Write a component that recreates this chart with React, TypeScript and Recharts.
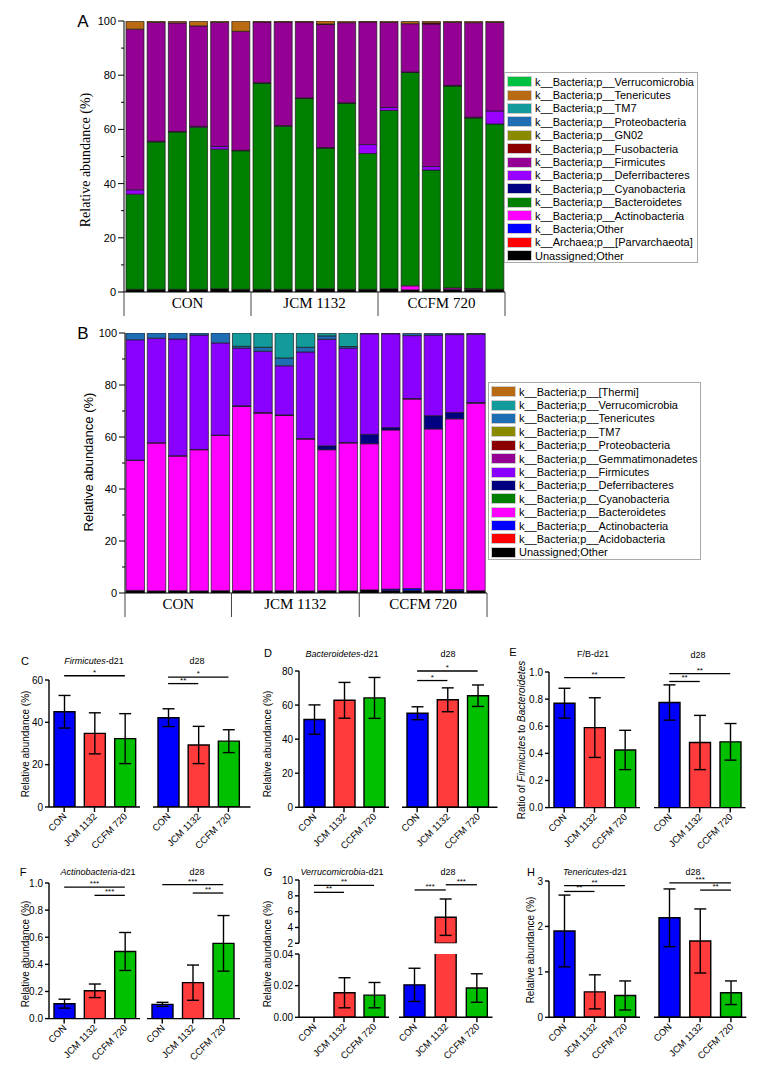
import React from 'react'
import { BarChart, Bar, XAxis, YAxis, Cell, ErrorBar, ReferenceLine } from 'recharts'

const sans = 'Liberation Sans, Arial, sans-serif'
const serif = 'Liberation Serif, Times New Roman, serif'

// ---- A: phylum composition, 18 samples (bottom of stack first)
const samplesA = ['CON1', 'CON2', 'CON3', 'CON4', 'CON5', 'CON6', 'JCM1', 'JCM2', 'JCM3', 'JCM4', 'JCM5', 'JCM6', 'CCFM1', 'CCFM2', 'CCFM3', 'CCFM4', 'CCFM5', 'CCFM6']
const unassignedA = [1, 1, 1, 1, 1.2, 1, 1, 1, 1, 1.2, 1, 1, 1.2, 0.8, 1, 1, 1, 1]
const parvA = [0, 0, 0, 0, 0, 0, 0, 0, 0, 0, 0, 0, 0, 0, 0, 0, 0, 0]
const otherA = [0, 0, 0, 0, 0, 0, 0, 0, 0, 0, 0, 0, 0, 0, 0, 0, 0, 0]
const actinoA = [0, 0, 0, 0, 0, 0, 0, 0, 0, 0, 0, 0, 0, 1.5, 0, 0.5, 0.3, 0]
const bacteroA = [35.1, 54.4, 58.1, 59.8, 51.5, 51.1, 76.1, 60.2, 70.5, 51.9, 68.7, 50.1, 65.8, 78.7, 44, 74.5, 62.9, 61]
const cyanoA = [0, 0, 0, 0, 0, 0, 0, 0, 0, 0, 0, 0, 0, 0, 0, 0, 0, 0]
const deferriA = [1.6, 0.2, 0.1, 0.3, 1.0, 0.2, 0.1, 0.2, 0.1, 0.2, 0.1, 3.3, 1.1, 0.2, 1.3, 0.2, 0.3, 4.8]
const firmA = [59.3, 43.9, 40.1, 37.1, 45.8, 43.9, 22.4, 38.2, 28, 45.5, 29.6, 45.2, 31.4, 17.8, 52.6, 23.3, 34.9, 32.7]
const fusoA = [0, 0, 0, 0, 0, 0, 0, 0, 0, 0.1, 0, 0, 0, 0, 0.4, 0, 0, 0]
const gn02A = [0, 0, 0, 0, 0, 0, 0, 0, 0, 0, 0, 0, 0, 0, 0, 0, 0, 0]
const proteoA = [0, 0, 0, 0, 0, 0, 0, 0, 0, 0, 0, 0, 0, 0, 0, 0, 0, 0]
const tm7A = [0, 0, 0, 0, 0, 0, 0, 0, 0, 0, 0, 0, 0, 0, 0, 0, 0, 0]
const teneA = [2.9, 0.4, 0.6, 1.7, 0.4, 3.7, 0.3, 0.3, 0.3, 1.1, 0.5, 0.3, 0.4, 0.8, 0.6, 0.4, 0.5, 0.4]
const verrucoA = [0, 0, 0, 0, 0, 0, 0, 0, 0, 0, 0, 0, 0, 0, 0, 0, 0, 0]

const seriesA: [string, number[]][] = [
  ['Unassigned;Other', unassignedA],
  ['k__Archaea;p__[Parvarchaeota]', parvA],
  ['k__Bacteria;Other', otherA],
  ['k__Bacteria;p__Actinobacteria', actinoA],
  ['k__Bacteria;p__Bacteroidetes', bacteroA],
  ['k__Bacteria;p__Cyanobacteria', cyanoA],
  ['k__Bacteria;p__Deferribacteres', deferriA],
  ['k__Bacteria;p__Firmicutes', firmA],
  ['k__Bacteria;p__Fusobacteria', fusoA],
  ['k__Bacteria;p__GN02', gn02A],
  ['k__Bacteria;p__Proteobacteria', proteoA],
  ['k__Bacteria;p__TM7', tm7A],
  ['k__Bacteria;p__Tenericutes', teneA],
  ['k__Bacteria;p__Verrucomicrobia', verrucoA],
]
const coloursA = ['#000000', '#ff0000', '#0000ff', '#ff00ff', '#008000', '#000080', '#9900ff', '#930093', '#8b0000', '#8a8a00', '#1f6db3', '#139a9a', '#b86b12', '#00c040']

// ---- B: phylum composition, 17 samples
const samplesB = ['CON1', 'CON2', 'CON3', 'CON4', 'CON5', 'JCM1', 'JCM2', 'JCM3', 'JCM4', 'JCM5', 'JCM6', 'CCFM1', 'CCFM2', 'CCFM3', 'CCFM4', 'CCFM5', 'CCFM6']
const unassignedB = [1, 0.8, 0.9, 0.8, 0.9, 0.9, 0.8, 0.9, 0.8, 0.9, 0.8, 1.2, 0.9, 0.9, 0.9, 0.8, 0.9]
const acidoB = [0, 0, 0, 0, 0, 0, 0, 0, 0, 0, 0, 0, 0, 0, 0, 0, 0]
const actinoB = [0, 0, 0, 0, 0, 0, 0, 0, 0, 0, 0, 0, 0.6, 0.8, 0, 0.5, 0]
const bacteroB = [50, 56.9, 51.8, 54.3, 59.7, 70.9, 68.4, 67.4, 58.4, 54.2, 56.9, 56.2, 61.2, 72.9, 62.2, 65.7, 72.1]
const cyanoB = [0, 0, 0, 0, 0, 0, 0, 0, 0, 0, 0, 0, 0, 0, 0, 0, 0]
const deferriB = [0.1, 0.1, 0.1, 0.1, 0.1, 0.2, 0.2, 0.2, 0.2, 1.5, 0.2, 3.6, 0.9, 0.2, 5.1, 2.4, 0.3]
const firmB = [46.3, 40.2, 44.9, 44, 35.5, 22.2, 23.6, 18.9, 33.3, 41, 36.3, 38.7, 36.1, 24.2, 31, 30, 26.2]
const gemmaB = [0, 0, 0, 0, 0, 0, 0, 0, 0, 0, 0, 0, 0, 0, 0, 0, 0]
const proteoB = [0, 0, 0, 0, 0, 0, 0, 0, 0, 0, 0, 0, 0, 0, 0, 0, 0]
const tm7B = [0, 0, 0, 0, 0, 0, 0, 0, 0, 0, 0, 0, 0, 0, 0, 0, 0]
const teneB = [2.6, 2, 2.3, 0.8, 3.8, 0.7, 1.5, 3, 1.8, 1.3, 0.6, 0.2, 0.2, 0.8, 0.6, 0.4, 0.3]
const verrucoB = [0, 0, 0, 0, 0, 5.1, 5.5, 9.6, 5.5, 1, 5.2, 0, 0, 0, 0, 0, 0]
const thermiB = [0, 0, 0, 0, 0, 0, 0, 0, 0, 0, 0, 0, 0, 0, 0, 0, 0]

const seriesB: [string, number[]][] = [
  ['Unassigned;Other', unassignedB],
  ['k__Bacteria;p__Acidobacteria', acidoB],
  ['k__Bacteria;p__Actinobacteria', actinoB],
  ['k__Bacteria;p__Bacteroidetes', bacteroB],
  ['k__Bacteria;p__Cyanobacteria', cyanoB],
  ['k__Bacteria;p__Deferribacteres', deferriB],
  ['k__Bacteria;p__Firmicutes', firmB],
  ['k__Bacteria;p__Gemmatimonadetes', gemmaB],
  ['k__Bacteria;p__Proteobacteria', proteoB],
  ['k__Bacteria;p__TM7', tm7B],
  ['k__Bacteria;p__Tenericutes', teneB],
  ['k__Bacteria;p__Verrucomicrobia', verrucoB],
  ['k__Bacteria;p__[Thermi]', thermiB],
]
const coloursB = ['#000000', '#ff0000', '#0000ff', '#ff00ff', '#008000', '#000080', '#8a00ff', '#930093', '#8b0000', '#8a8a00', '#1f6db3', '#139a9a', '#b86b12']

const groupNames = ['CON', 'JCM 1132', 'CCFM 720']
const groupSizesA = [6, 6, 6]
const groupSizesB = [5, 6, 6]
const pctTicks = [0, 10, 20, 30, 40, 50, 60, 70, 80, 90, 100]

// ---- C-H: group means and SD
const groups = ['CON', 'JCM 1132', 'CCFM 720']
const firmD21 = [45.0, 34.8, 32.3]
const firmD21Sd = [7.7, 9.7, 11.8]
const firmD28 = [42.2, 29.3, 31.1]
const firmD28Sd = [4.2, 8.8, 5.4]
const bactD21 = [51.5, 62.8, 64.2]
const bactD21Sd = [8.6, 10.5, 12.0]
const bactD28 = [55.2, 63.1, 65.5]
const bactD28Sd = [3.8, 7.0, 6.3]
const fbD21 = [0.77, 0.59, 0.425]
const fbD21Sd = [0.11, 0.22, 0.145]
const fbD28 = [0.775, 0.48, 0.485]
const fbD28Sd = [0.13, 0.2, 0.135]
const actD21 = [0.11, 0.205, 0.495]
const actD21Sd = [0.033, 0.05, 0.14]
const actD28 = [0.105, 0.265, 0.555]
const actD28Sd = [0.015, 0.13, 0.205]
const verD21 = [0, 0.0155, 0.014]
const verD21Sd = [0, 0.0095, 0.008]
const verD28 = [0.0205, 5.3, 0.0185]
const verD28Sd = [0.0105, 2.3, 0.009]
const tenD21 = [1.9, 0.56, 0.48]
const tenD21Sd = [0.79, 0.375, 0.32]
const tenD28 = [2.19, 1.68, 0.54]
const tenD28Sd = [0.635, 0.705, 0.26]

type Sig = { a: number; b: number; y: number; t: string }
const sigC21: Sig[] = [{ a: 0, b: 2, y: 62, t: '*' }]
const sigC28: Sig[] = [{ a: 0, b: 1, y: 58.3, t: '**' }, { a: 0, b: 2, y: 61.4, t: '*' }]
const sigD28: Sig[] = [{ a: 0, b: 1, y: 74.4, t: '*' }, { a: 0, b: 2, y: 80, t: '*' }]
const sigE21: Sig[] = [{ a: 0, b: 2, y: 0.958, t: '**' }]
const sigE28: Sig[] = [{ a: 0, b: 1, y: 0.93, t: '**' }, { a: 0, b: 2, y: 0.988, t: '**' }]
const sigF21: Sig[] = [{ a: 0, b: 2, y: 0.97, t: '***' }, { a: 1, b: 2, y: 0.909, t: '***' }]
const sigF28: Sig[] = [{ a: 0, b: 2, y: 0.988, t: '***' }, { a: 1, b: 2, y: 0.926, t: '**' }]
const sigG21: Sig[] = [{ a: 0, b: 1, y: 8.44, t: '**' }, { a: 0, b: 2, y: 9.33, t: '**' }]
const sigG28: Sig[] = [{ a: 0, b: 1, y: 8.74, t: '***' }, { a: 1, b: 2, y: 9.4, t: '***' }]
const sigH21: Sig[] = [{ a: 0, b: 1, y: 2.77, t: '**' }, { a: 0, b: 2, y: 2.9, t: '**' }]
const sigH28: Sig[] = [{ a: 0, b: 2, y: 2.96, t: '***' }, { a: 1, b: 2, y: 2.8, t: '**' }]

const barColours = ['#0000ff', '#ff3b3b', '#00c000']

const PctTick = (p: any) => {
  const v = p.payload.value
  const major = v % 20 === 0
  return (
    <g>
      <line x1={p.x} x2={p.x - (major ? 6 : 3)} y1={p.y} y2={p.y} stroke="#000" />
      {major && (
        <text x={p.x - 8} y={p.y} dy={4} textAnchor="end" fontSize={11} fontFamily={sans}>
          {v}
        </text>
      )}
    </g>
  )
}

function StackPanel({ left, top, plotW, plotH, samples, series, colours, sizes, barSize }: any) {
  const YW = 50, XH = 30, MT = 10, MR = 10
  const rows = samples.map((s: string, i: number) => {
    const r: any = { s }
    series.forEach(([k, v]: [string, number[]]) => { r[k] = v[i] })
    return r
  })
  const slot = plotW / samples.length
  const starts = sizes.map((_: number, g: number) => sizes.slice(0, g).reduce((a: number, b: number) => a + b, 0))
  const GroupTick = (p: any) => {
    const i = p.index
    const g = starts.indexOf(i)
    const xs = p.x - slot / 2
    return (
      <g>
        {g >= 0 && <line x1={xs} x2={xs} y1={p.y} y2={p.y + 24} stroke="#444" />}
        {g >= 0 && (
          <text x={xs + (sizes[g] * slot) / 2} y={p.y + 16} textAnchor="middle" fontFamily={serif} fontSize={15}>
            {groupNames[g]}
          </text>
        )}
        {i === samples.length - 1 && <line x1={p.x + slot / 2} x2={p.x + slot / 2} y1={p.y} y2={p.y + 24} stroke="#444" />}
      </g>
    )
  }
  return (
    <div style={{ position: 'absolute', left: left - YW, top: top - MT }}>
      <BarChart width={YW + plotW + MR} height={MT + plotH + XH} data={rows} margin={{ top: MT, right: MR, bottom: 0, left: 0 }} barSize={barSize}>
        <XAxis dataKey="s" height={XH} interval={0} tickSize={0} tickMargin={0} tick={GroupTick} stroke="#000" />
        <YAxis width={YW} type="number" domain={[0, 100]} ticks={pctTicks} interval={0} allowDataOverflow tickSize={0} tickMargin={0} tickLine={false} tick={PctTick} stroke="#000" />
        {series.map(([k]: [string], j: number) => (
          <Bar key={k} dataKey={k} stackId="a" fill={colours[j]} stroke="#1a1a1a" strokeWidth={0.7} isAnimationActive={false} />
        ))}
      </BarChart>
    </div>
  )
}

function LegendBox({ left, top, width, height, series, colours }: any) {
  const items = series.map(([k]: [string], j: number) => ({ k, c: colours[j] })).reverse()
  return (
    <div style={{ position: 'absolute', left, top, width, height, boxSizing: 'border-box', border: '1px solid #aaa', background: '#fff', paddingTop: 2, paddingLeft: 2 }}>
      {items.map((it: any) => (
        <div key={it.k} style={{ height: 13.4, display: 'flex', alignItems: 'center', fontFamily: sans, fontSize: 11, whiteSpace: 'nowrap' }}>
          <span style={{ width: 25, height: 11, background: it.c, border: '1px solid #ccc', boxSizing: 'border-box', marginRight: 3, flex: 'none' }} />
          <span>{it.k}</span>
        </div>
      ))}
    </div>
  )
}

const CatTick = (p: any) => (
  <g transform={`translate(${p.x},${p.y})`}>
    <line x1={0} x2={0} y1={0} y2={5} stroke="#000" strokeWidth={1.4} />
    <text transform="translate(3,10) rotate(-45)" textAnchor="end" fontSize={9.5} fontFamily={sans}>
      {p.payload.value}
    </text>
  </g>
)

type SubProps = {
  x0: number; x1: number; y0: number; y1: number
  domain: [number, number]; ticks: number[]; dec?: number
  values: (number | null)[]; sds: (number | null)[]
  showY?: boolean; hideX?: boolean; sigs?: Sig[]; padR?: number
}

function Sub({ x0, x1, y0, y1, domain, ticks, dec = 0, values, sds, showY = false, hideX = false, sigs = [], padR = 0 }: SubProps) {
  const ML = 40, MT = 30, MR = 4, MB = 44, HB = 8
  const rows = groups.map((g, i) => ({ g, v: values[i], sd: sds[i] }))
  const w = x1 - x0 + ML + MR
  const h = y1 - y0 + MT + (hideX ? HB : MB)
  return (
    <div style={{ position: 'absolute', left: x0 - ML, top: y0 - MT }}>
      <BarChart width={w} height={h} data={rows} margin={{ top: MT, right: MR, bottom: hideX ? HB : 0, left: showY ? 0 : ML }} barSize={21}>
        <XAxis dataKey="g" hide={hideX} height={MB} interval={0} tickSize={0} tickMargin={0} tick={CatTick} padding={{ left: 0, right: padR }} stroke="#000" strokeWidth={1.4} />
        <YAxis
          hide={!showY}
          width={ML}
          type="number"
          domain={domain}
          ticks={ticks}
          interval={0}
          allowDataOverflow
          tickSize={4}
          tickMargin={2}
          tickFormatter={(v: number) => v.toFixed(dec)}
          tick={{ fontSize: 10, fill: '#000', fontFamily: sans }}
          stroke="#000"
          strokeWidth={1.4}
        />
        <Bar dataKey="v" stroke="#000" strokeWidth={1.4} isAnimationActive={false}>
          {rows.map((_, i) => (
            <Cell key={i} fill={barColours[i]} />
          ))}
          <ErrorBar dataKey="sd" width={6} stroke="#000" strokeWidth={1.4} isAnimationActive={false} />
        </Bar>
        {sigs.map((s, i) => (
          <ReferenceLine
            key={i}
            segment={[{ x: groups[s.a], y: s.y }, { x: groups[s.b], y: s.y }]}
            stroke="#000"
            strokeWidth={1.3}
            ifOverflow="visible"
            label={{ value: s.t, position: 'top', offset: 1, fontSize: 8, fill: '#000', fontFamily: sans }}
          />
        ))}
      </BarChart>
    </div>
  )
}

const Txt = ({ x, y, size = 10, family = sans, rotate = false, children }: any) => (
  <div
    style={{
      position: 'absolute', left: x, top: y, fontSize: size, fontFamily: family, whiteSpace: 'nowrap', lineHeight: 1,
      transform: `translate(-50%,-50%)${rotate ? ' rotate(-90deg)' : ''}`,
    }}
  >
    {children}
  </div>
)

const verUpper = verD28.map((v) => (v > 0.04 ? v : null))
const verUpperSd = verD28Sd.map((s, i) => (verD28[i] > 0.04 ? s : null))
const verLowerSd = verD28Sd.map((s, i) => (verD28[i] > 0.04 ? null : s))
const none = [null, null, null]

export default function App() {
  const abundance = 'Relative abundance (%)'
  return (
    <div style={{ position: 'absolute', left: 0, top: 0, width: 763, height: 1067, background: '#fff', overflow: 'hidden' }}>
      {/* A */}
      <StackPanel left={124} top={21} plotW={381} plotH={271} samples={samplesA} series={seriesA} colours={coloursA} sizes={groupSizesA} barSize={18} />
      <LegendBox left={504} top={72} width={194} height={191} series={seriesA} colours={coloursA} />
      <Txt x={83} y={21} size={17}>A</Txt>
      <Txt x={86} y={160} size={14} family={serif} rotate>{abundance}</Txt>

      {/* B */}
      <StackPanel left={125.3} top={333} plotW={362} plotH={260} samples={samplesB} series={seriesB} colours={coloursB} sizes={groupSizesB} barSize={18.5} />
      <LegendBox left={488} top={382} width={213} height={178} series={seriesB} colours={coloursB} />
      <Txt x={83} y={333} size={17}>B</Txt>
      <Txt x={88} y={462} size={13} rotate>{abundance}</Txt>

      {/* C */}
      <Sub x0={49} x1={140} y0={680} y1={807} domain={[0, 60]} ticks={[0, 20, 40, 60]} values={firmD21} sds={firmD21Sd} showY sigs={sigC21} />
      <Sub x0={152.5} x1={250} y0={680} y1={807} domain={[0, 60]} ticks={[0, 20, 40, 60]} values={firmD28} sds={firmD28Sd} sigs={sigC28} padR={7} />
      <Txt x={25} y={661} size={11}>C</Txt>
      <Txt x={94} y={661} size={9}><i>Firmicutes</i>-d21</Txt>
      <Txt x={197} y={661} size={9}>d28</Txt>
      <Txt x={26} y={744} size={10} rotate>{abundance}</Txt>

      {/* D */}
      <Sub x0={299} x1={389} y0={671} y1={807.3} domain={[0, 80]} ticks={[0, 20, 40, 60, 80]} values={bactD21} sds={bactD21Sd} showY />
      <Sub x0={401.5} x1={497} y0={671} y1={807.3} domain={[0, 80]} ticks={[0, 20, 40, 60, 80]} values={bactD28} sds={bactD28Sd} sigs={sigD28} padR={4.7} />
      <Txt x={268} y={653} size={11}>D</Txt>
      <Txt x={342} y={654} size={9}><i>Bacteroidetes</i>-d21</Txt>
      <Txt x={448} y={654} size={9}>d28</Txt>
      <Txt x={268} y={744} size={10} rotate>{abundance}</Txt>

      {/* E */}
      <Sub x0={549} x1={640} y0={671.7} y1={807.3} domain={[0, 1]} ticks={[0, 0.2, 0.4, 0.6, 0.8, 1]} dec={1} values={fbD21} sds={fbD21Sd} showY sigs={sigE21} />
      <Sub x0={653.5} x1={745} y0={671.7} y1={807.3} domain={[0, 1]} ticks={[0, 0.2, 0.4, 0.6, 0.8, 1]} dec={1} values={fbD28} sds={fbD28Sd} sigs={sigE28} />
      <Txt x={513} y={652} size={11}>E</Txt>
      <Txt x={593} y={654} size={9}>F/B-d21</Txt>
      <Txt x={698} y={655} size={9}>d28</Txt>
      <Txt x={522} y={740} size={10} rotate>Ratio of <i>Firmicutes</i> to <i>Bacteroidetes</i></Txt>

      {/* F */}
      <Sub x0={49} x1={140} y0={882.7} y1={1018.3} domain={[0, 1]} ticks={[0, 0.2, 0.4, 0.6, 0.8, 1]} dec={1} values={actD21} sds={actD21Sd} showY sigs={sigF21} />
      <Sub x0={147} x1={240} y0={882.7} y1={1018.3} domain={[0, 1]} ticks={[0, 0.2, 0.4, 0.6, 0.8, 1]} dec={1} values={actD28} sds={actD28Sd} sigs={sigF28} padR={1.5} />
      <Txt x={23} y={872} size={11}>F</Txt>
      <Txt x={98} y={872} size={9}><i>Actinobacteria</i>-d21</Txt>
      <Txt x={197} y={872} size={9}>d28</Txt>
      <Txt x={26} y={954} size={10} rotate>{abundance}</Txt>

      {/* G (broken axis) */}
      <Sub x0={299} x1={389} y0={880} y1={943.3} domain={[2, 10]} ticks={[2, 4, 6, 8, 10]} values={none} sds={none} showY hideX sigs={sigG21} />
      <Sub x0={299} x1={389} y0={954} y1={1017.3} domain={[0, 0.04]} ticks={[0, 0.02, 0.04]} dec={2} values={verD21} sds={verD21Sd} showY />
      <Sub x0={398.5} x1={492} y0={880} y1={943.3} domain={[2, 10]} ticks={[2, 4, 6, 8, 10]} values={verUpper} sds={verUpperSd} hideX sigs={sigG28} />
      <Sub x0={398.5} x1={492} y0={954} y1={1017.3} domain={[0, 0.04]} ticks={[0, 0.02, 0.04]} dec={2} values={verD28} sds={verLowerSd} />
      <Txt x={268} y={872} size={11}>G</Txt>
      <Txt x={342} y={872} size={9}><i>Verrucomicrobia</i>-d21</Txt>
      <Txt x={448} y={872} size={9}>d28</Txt>
      <Txt x={268} y={954} size={10} rotate>{abundance}</Txt>

      {/* H */}
      <Sub x0={549} x1={640} y0={881} y1={1017.3} domain={[0, 3]} ticks={[0, 1, 2, 3]} values={tenD21} sds={tenD21Sd} showY sigs={sigH21} />
      <Sub x0={653.7} x1={746} y0={881} y1={1017.3} domain={[0, 3]} ticks={[0, 1, 2, 3]} values={tenD28} sds={tenD28Sd} sigs={sigH28} />
      <Txt x={531} y={872} size={11}>H</Txt>
      <Txt x={595} y={872} size={9}><i>Tenericutes</i>-d21</Txt>
      <Txt x={693} y={872} size={9}>d28</Txt>
      <Txt x={531} y={950} size={10} rotate>{abundance}</Txt>
    </div>
  )
}
